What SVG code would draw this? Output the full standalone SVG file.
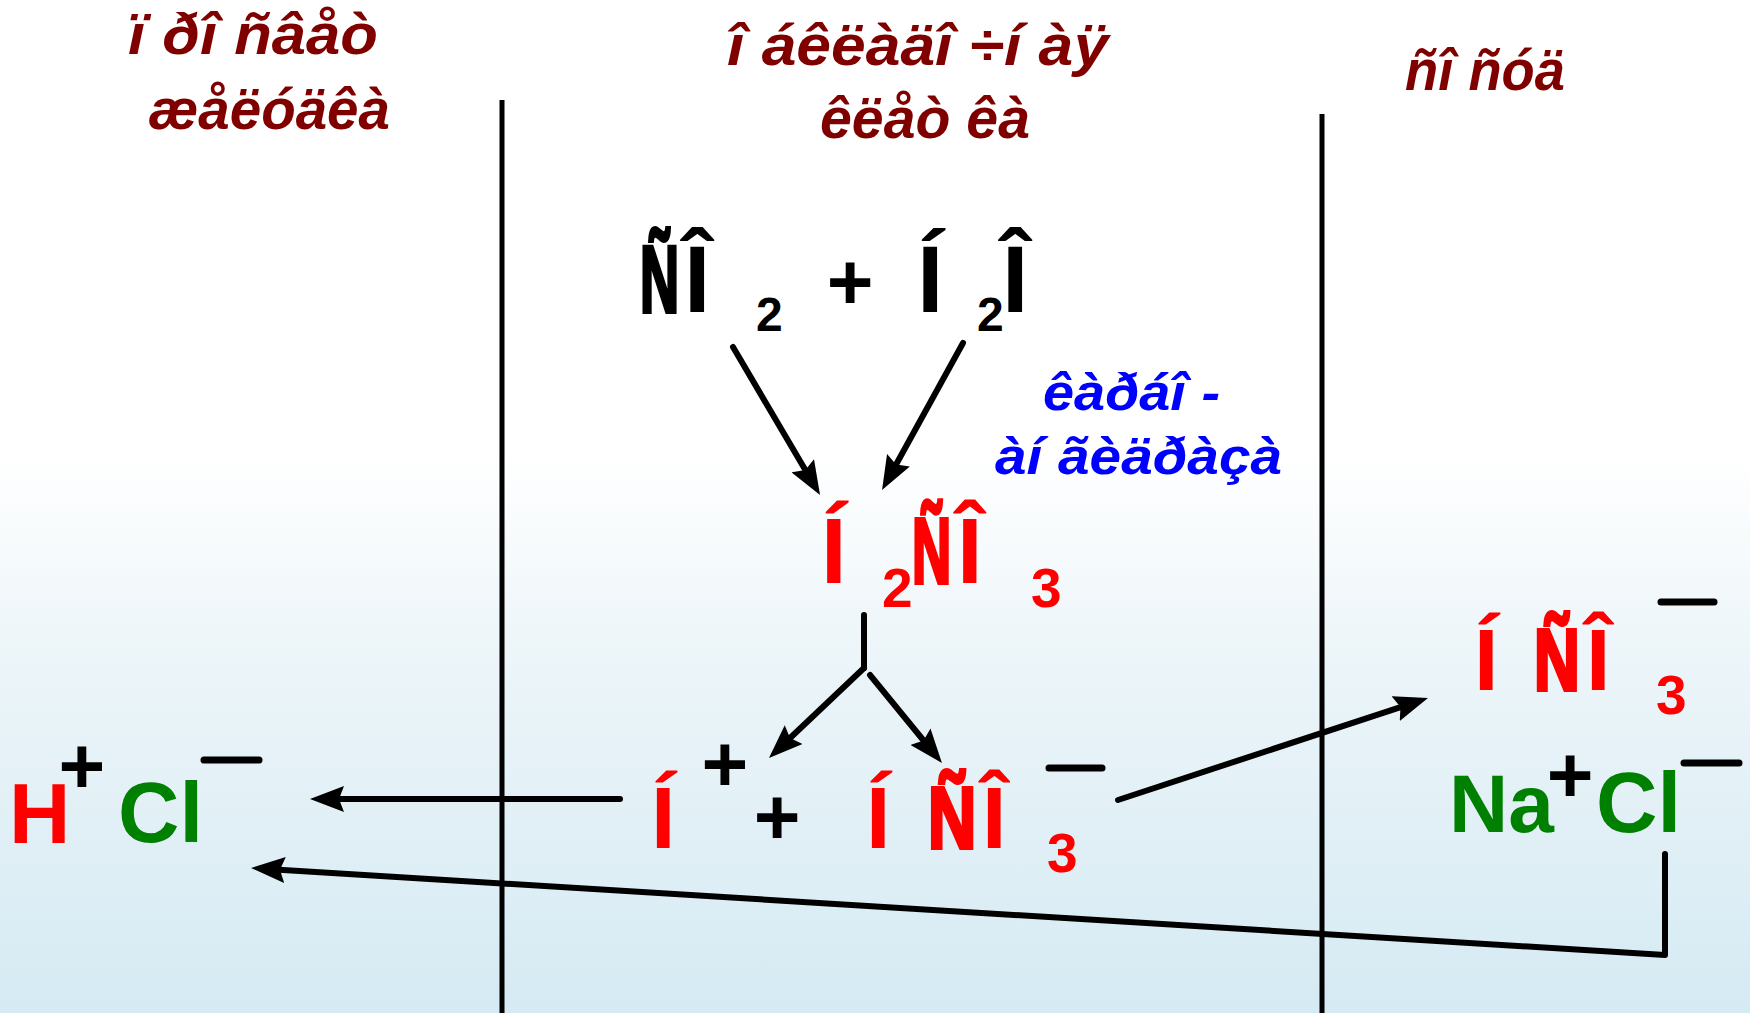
<svg xmlns="http://www.w3.org/2000/svg" width="1750" height="1013" viewBox="0 0 1750 1013">
<defs>
<linearGradient id="bg" x1="0" y1="0" x2="0" y2="1">
<stop offset="0" stop-color="#ffffff"/>
<stop offset="0.45" stop-color="#ffffff"/>
<stop offset="0.65" stop-color="#ecf5f9"/>
<stop offset="1" stop-color="#d5eaf3"/>
</linearGradient>
<marker id="ah" markerUnits="userSpaceOnUse" markerWidth="34" markerHeight="26" refX="14" refY="13" orient="auto">
<path d="M0,0 L34,13 L0,26 L5,13 z" fill="#000"/>
</marker>
<style>
text{font-family:"Liberation Sans",Arial,sans-serif;font-weight:bold}
.hdr{font-style:italic;font-size:58px;fill:#800000}
.blue{font-style:italic;font-size:52px;fill:#0000ff}
.blk{fill:#000}
.red{fill:#ff0000}
.grn{fill:#008000}
.sub{font-size:55px}
.pl{font-size:80px;fill:#000;text-anchor:middle}
.sp{font-size:80px;fill:#000}
.cn{stroke-width:4}
.blk.cn{stroke:#000}
.red.cn{stroke:#ff0000}
.ln{stroke:#000;stroke-width:5;fill:none}
.ar{stroke:#000;stroke-width:6;fill:none;stroke-linecap:round;stroke-linejoin:round}
.mn{stroke:#000;stroke-width:7;stroke-linecap:round}
</style>
</defs>
<rect x="0" y="0" width="1750" height="1013" fill="url(#bg)"/>

<g id="dividers">
<line class="ln" x1="502" y1="100" x2="502" y2="1013"/>
<line class="ln" x1="1322" y1="114" x2="1322" y2="1013"/>
</g>

<g id="header-left">
<text class="hdr" x="128" y="54" textLength="250" lengthAdjust="spacingAndGlyphs">ï ðî ñâåò</text>
<text class="hdr" x="148" y="129" textLength="242" lengthAdjust="spacingAndGlyphs">æåëóäêà</text>
</g>
<g id="header-center">
<text class="hdr" x="727" y="65" textLength="381" lengthAdjust="spacingAndGlyphs">î áêëàäî ÷í àÿ</text>
<text class="hdr" x="820" y="138" textLength="210" lengthAdjust="spacingAndGlyphs">êëåò êà</text>
</g>
<g id="header-right">
<text class="hdr" x="1405" y="90" textLength="160" lengthAdjust="spacingAndGlyphs">ñî ñóä</text>
</g>

<g id="reactants">
<text class="blk cn" transform="translate(640,312) scale(0.57,1)" font-size="95">Ñ</text>
<text class="blk" x="684" y="312" font-size="95">Î</text>
<text class="blk" x="756" y="331" font-size="48">2</text>
<text class="pl" x="850" y="309">+</text>
<text class="blk" x="917" y="312" font-size="95">Í</text>
<text class="blk" x="977" y="331" font-size="48">2</text>
<text class="blk" x="1002" y="312" font-size="95">Î</text>
</g>

<g id="enzyme">
<text class="blue" x="1043" y="410" textLength="177" lengthAdjust="spacingAndGlyphs">êàðáî -</text>
<text class="blue" x="995" y="474" textLength="287" lengthAdjust="spacingAndGlyphs">àí ãèäðàçà</text>
</g>

<g id="carbonic-acid">
<text class="red" x="821" y="583" font-size="92">Í</text>
<text class="red sub" x="882" y="607">2</text>
<text class="red cn" transform="translate(912,583) scale(0.59,1)" font-size="92">Ñ</text>
<text class="red" x="957" y="583" font-size="92">Î</text>
<text class="red sub" x="1031" y="607">3</text>
</g>

<g id="dissociation">
<text x="651" y="848" font-size="88"><tspan class="red">Í</tspan><tspan class="sp" dx="26" dy="-57">+</tspan></text>
<text class="pl" x="777" y="844">+</text>
<text class="red" x="866" y="848" font-size="88">Í</text>
<text class="red cn" transform="translate(928,848) scale(0.76,1)" font-size="88">Ñ</text>
<text class="red" x="982" y="848" font-size="88">Î</text>
<text class="red sub" x="1047" y="872">3</text>
<line class="mn" x1="1049" y1="768" x2="1102" y2="768"/>
</g>

<g id="hcl">
<text x="9" y="843" font-size="85"><tspan class="red">H</tspan><tspan class="sp" dx="-11.8" dy="-50">+</tspan></text>
<text class="grn" x="118" y="842" font-size="85">Cl</text>
<line class="mn" x1="204" y1="760" x2="259" y2="760"/>
</g>

<g id="bicarbonate-blood">
<text class="red" x="1474" y="690" font-size="88">Í</text>
<text class="red cn" transform="translate(1534,690) scale(0.72,1)" font-size="88">Ñ</text>
<text class="red" x="1586" y="690" font-size="88">Î</text>
<text class="red sub" x="1656" y="714">3</text>
<line class="mn" x1="1661" y1="602" x2="1714" y2="602"/>
</g>

<g id="nacl">
<text x="1449" y="832" font-size="82"><tspan class="grn">Na</tspan><tspan class="sp" dx="-7.2" dy="-30">+</tspan></text>
<text class="grn" x="1596" y="832" font-size="85">Cl</text>
<line class="mn" x1="1684" y1="763" x2="1739" y2="763"/>
</g>

<g id="connectors">
<line class="ar" x1="733" y1="347" x2="809.9" y2="477.8" marker-end="url(#ah)"/>
<line class="ar" x1="963" y1="343" x2="891.7" y2="472.5" marker-end="url(#ah)"/>
<line class="ar" x1="864" y1="615" x2="864" y2="668"/>
<line class="ar" x1="864" y1="668" x2="783.5" y2="744.2" marker-end="url(#ah)"/>
<line class="ar" x1="870" y1="675" x2="929.3" y2="747.5" marker-end="url(#ah)"/>
<line class="ar" x1="620" y1="799" x2="330" y2="799" marker-end="url(#ah)"/>
<line class="ar" x1="1118" y1="800" x2="1409" y2="704.3" marker-end="url(#ah)"/>
<polyline class="ar" points="1665,854 1665,955 271,869.2" marker-end="url(#ah)"/>
</g>
</svg>
